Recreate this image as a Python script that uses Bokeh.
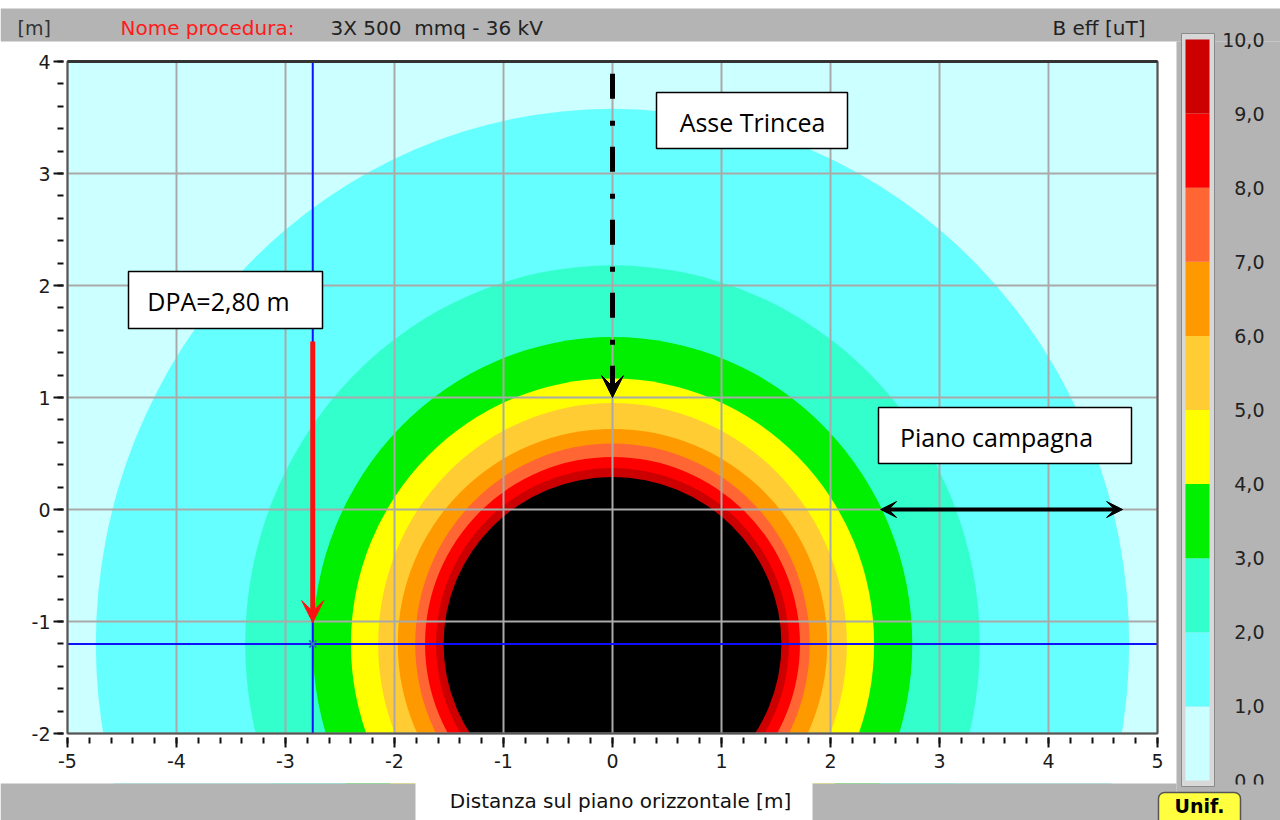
import numpy as np
from bokeh.plotting import figure
from bokeh.models import (Range1d, BoxAnnotation, Label, Arrow, VeeHead,
                          FixedTicker, ColumnDataSource)
from bokeh.embed import file_html
from bokeh.resources import INLINE

# ---------------- data ----------------
x_ticks = [-5, -4, -3, -2, -1, 0, 1, 2, 3, 4, 5]
y_ticks = [-2, -1, 0, 1, 2, 3, 4]
b_levels = [1, 2, 3, 4, 5, 6, 7, 8, 9, 10]            # contour thresholds [uT]
radius_x = [4.74, 3.37, 2.75, 2.40, 2.15, 1.97, 1.81, 1.72, 1.62, 1.55]   # half-width [m]
radius_y = [4.78, 3.38, 2.74, 2.37, 2.15, 1.92, 1.79, 1.67, 1.57, 1.49]   # half-height [m]
band_colors = ["#ccffff", "#66ffff", "#33ffcc", "#00f000", "#ffff00",
               "#ffcc33", "#ff9900", "#ff6633", "#ff0000", "#cc0000"]  # 0-1 ... 9-10
core_color = "#000000"                                 # > 10 uT
cb_values = [0, 1, 2, 3, 4, 5, 6, 7, 8, 9, 10]
cb_labels = ["0,0", "1,0", "2,0", "3,0", "4,0", "5,0", "6,0", "7,0", "8,0", "9,0", "10,0"]
cable_x, cable_y = 0.0, -1.2
dpa_x = -2.75
dpa_top, dpa_tip = 1.5, -1.01
axis_top, axis_tip = 3.89, 1.0
ground_y, ground_x0, ground_x1 = 0.0, 2.46, 4.68

# ---------------- page geometry ----------------
W, H = 1280, 820
L, R, T, B = 67, 1157, 61, 733          # plot box on the page [px]
x0, x1 = x_ticks[0], x_ticks[-1]
y0, y1 = y_ticks[0], y_ticks[-1]
sx = (R - L) / (x1 - x0)
sy = (B - T) / (y1 - y0)

p = figure(width=W, height=H,
           x_range=Range1d(x0 - L / sx, x1 + (W - R) / sx),
           y_range=Range1d(y0 - (H - B) / sy, y1 + T / sy),
           output_backend="svg", toolbar_location=None, min_border=0,
           background_fill_color="white", border_fill_color="white",
           outline_line_color=None)
p.grid.visible = False

# page-pixel ranges for the window chrome; colour-bar value range
p.extra_x_ranges = {"px": Range1d(0, W)}
p.extra_y_ranges = {"py": Range1d(H, 0), "cb": Range1d((780 - H) / 74.1, 780 / 74.1)}

# plot area background (0-1 uT band)
p.quad(left=x0, right=x1, bottom=y0, top=y1, fill_color=band_colors[0],
       line_color=None, level="image")

# contour bands as nested ellipses
fills = band_colors[1:] + [core_color]
src = ColumnDataSource(dict(x=[cable_x] * len(b_levels), y=[cable_y] * len(b_levels),
                            w=[2 * r for r in radius_x], h=[2 * r for r in radius_y],
                            c=fills))
p.ellipse(x="x", y="y", width="w", height="h", fill_color="c", line_color=None,
          source=src, level="image")


def pquad(l, r, t, b, fill, line=None, lw=1, yr="py"):
    p.quad(left=l, right=r, top=t, bottom=b, x_range_name="px", y_range_name=yr,
           fill_color=fill, line_color=line, line_width=lw, level="image")


# window chrome (covers the contour overflow below the plot box)
gray = "#b4b4b4"
pquad(0, 1176, B, 783, "white")
pquad(0, W, 8, 41, gray)
pquad(1176, W, 41, H, gray)
pquad(0, 1176, 783, H, gray)
pquad(415, 812, 781, H, "white")
# colour bar
pquad(1181, 1214, 33, 786, "#d8d8d8", "#8a8a8a", 1)
p.quad(left=[1185] * 10, right=[1209] * 10, bottom=cb_values[:-1], top=cb_values[1:],
       fill_color=band_colors, line_color=None, x_range_name="px", y_range_name="cb",
       level="image")

# grid lines inside the plot box
p.segment(x0=x_ticks, y0=[y0] * len(x_ticks), x1=x_ticks, y1=[y1] * len(x_ticks),
          line_color="#a9a9a9", line_width=2, level="underlay")
p.segment(x0=[x0] * len(y_ticks), y0=y_ticks, x1=[x1] * len(y_ticks), y1=y_ticks,
          line_color="#a9a9a9", line_width=2, level="underlay")

# axes drawn at the plot box edges
xminor = [round(v, 2) for v in np.arange(x0, x1 + 0.01, 0.2)]
yminor = [round(v, 2) for v in np.arange(y0, y1 + 0.01, 0.2)]
p.xaxis.ticker = FixedTicker(ticks=x_ticks, minor_ticks=xminor)
p.yaxis.ticker = FixedTicker(ticks=y_ticks, minor_ticks=yminor)
p.xaxis.fixed_location = y0
p.yaxis.fixed_location = x0
p.xaxis.bounds = (x0, x1)
p.yaxis.bounds = (y0, y1)
p.xaxis.major_label_overrides = {t: str(t) for t in x_ticks}
p.yaxis.major_label_overrides = {t: str(t) for t in y_ticks}
for ax in (p.xaxis[0], p.yaxis[0]):
    ax.axis_line_color = None
    ax.major_tick_line_color = "#111111"
    ax.minor_tick_line_color = "#111111"
    ax.major_tick_line_width = 2
    ax.minor_tick_line_width = 2
    ax.major_tick_in = -4
    ax.major_tick_out = 14
    ax.minor_tick_in = -4
    ax.minor_tick_out = 10
    ax.major_label_text_font = "DejaVu Sans"
    ax.major_label_text_font_size = "19px"
    ax.major_label_text_color = "#1a1a1a"
p.yaxis.major_label_standoff = 3
p.xaxis.major_label_standoff = 6

# cursor crosshair
p.line(x=[x0, x1], y=[cable_y, cable_y], line_color="#1010ff", line_width=2)
p.line(x=[dpa_x, dpa_x], y=[y0, y1], line_color="#1010ff", line_width=2)
p.scatter(x=[dpa_x], y=[cable_y], marker="x", size=10, line_color="#2a7fa8",
          line_width=2, level="overlay")

# plot frame
p.quad(left=x0, right=x1, bottom=y0, top=y1, fill_color=None, line_color="#555555",
       line_width=2, level="guide")
p.line(x=[x0, x1], y=[y1, y1], line_color="#333333", line_width=3, level="guide")

# arrows
p.add_layout(Arrow(end=VeeHead(size=22, fill_color="black", line_color="black"),
                   x_start=cable_x, y_start=axis_top, x_end=cable_x, y_end=axis_tip,
                   line_color="black", line_width=5, line_dash="25 22 5 21"))
p.add_layout(Arrow(end=VeeHead(size=22, fill_color="#ff1010", line_color="#ff1010"),
                   x_start=dpa_x, y_start=dpa_top, x_end=dpa_x, y_end=dpa_tip,
                   line_color="#ff1010", line_width=5))
p.add_layout(Arrow(start=VeeHead(size=16, fill_color="black", line_color="black"),
                   end=VeeHead(size=16, fill_color="black", line_color="black"),
                   x_start=ground_x0, y_start=ground_y, x_end=ground_x1, y_end=ground_y,
                   line_color="black", line_width=4))


def pbox(l, r, t, b, fill, line=None, lw=1, radius=0):
    p.add_layout(BoxAnnotation(left=l, right=r, top=t, bottom=b, x_range_name="px",
                               y_range_name="py", fill_color=fill, fill_alpha=1,
                               line_color=line, line_alpha=1, line_width=lw,
                               border_radius=radius))


def plabel(x, y, text, size="18px", color="#222222", align="left", font="DejaVu Sans",
           style="normal", yr="py"):
    p.add_layout(Label(x=x, y=y, x_range_name="px", y_range_name=yr, text=text,
                       text_font=font, text_font_size=size, text_color=color,
                       text_align=align, text_baseline="middle", text_font_style=style))


# annotation boxes
pbox(656, 847, 92, 148, "white", "black", 1.5)
plabel(752, 121, "Asse Trincea", size="25px", color="black", align="center", font="Open Sans")
pbox(128, 322, 271, 328, "white", "black", 1.5)
plabel(218, 300, "DPA=2,80 m", size="25px", color="black", align="center", font="Open Sans")
pbox(878, 1131, 407, 463, "white", "black", 1.5)
plabel(996, 436, "Piano campagna", size="25px", color="black", align="center", font="Open Sans")

# header / footer texts
plabel(17, 27, "[m]", size="19px", color="#333333")
plabel(120, 27, "Nome procedura:", size="20px", color="#ff1a1a")
plabel(330, 27, "3X 500\u00a0 mmq - 36 kV", size="20px", color="#222222")
plabel(1145, 27, "B eff [uT]", size="20px", color="#222222", align="right")
plabel(620, 800, "Distanza sul piano orizzontale [m]", size="20px", color="#111111",
       align="center")

# colour-bar labels
for v, t in zip(cb_values, cb_labels):
    plabel(1264, v, t, size="19px", color="#222222", align="right", yr="cb")
pbox(1218, W, 784, H, gray)

# "Unif." button
pbox(1158, 1240, 792, 830, "#ffff40", "#555555", 1.5, radius=6)
plabel(1199, 805, "Unif.", size="19px", color="black", align="center", style="bold")

open("out.html", "w").write(file_html(p, INLINE))
